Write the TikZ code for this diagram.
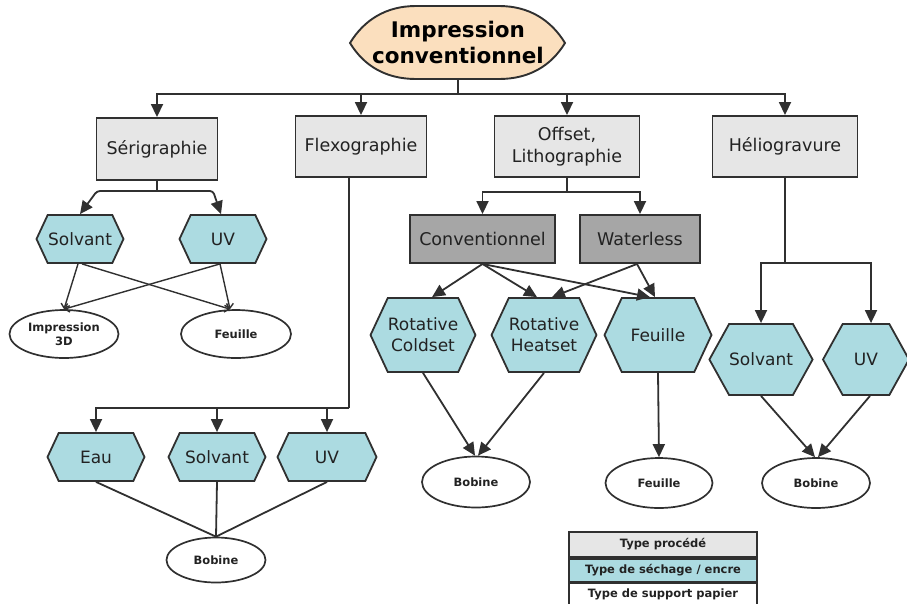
\documentclass[tikz,border=0pt]{standalone}
\usepackage{fontspec}
\setmainfont{DejaVu Sans}
\usetikzlibrary{shapes.geometric,shapes.symbols,arrows.meta,calc}
\definecolor{peach}{HTML}{FBDFBE}
\definecolor{lgray}{HTML}{E6E6E6}
\definecolor{dgray}{HTML}{A6A6A6}
\definecolor{cyanf}{HTML}{ACDBE1}
\definecolor{edge}{HTML}{303030}
\definecolor{txt}{HTML}{222222}
\begin{document}
\begin{tikzpicture}[x=1pt,y=-1pt,
  every node/.style={text=txt},
  proc/.style={rectangle,draw=edge,line width=1.9pt,fill=lgray,inner sep=0pt,align=center,font=\fontsize{17.5}{22}\selectfont},
  sub/.style={proc,fill=dgray},
  hexa/.style={signal,signal to=west and east,signal pointer angle=130,draw=edge,line width=1.8pt,fill=cyanf,inner sep=0pt,align=center,font=\fontsize{17}{21}\selectfont},
  supp/.style={ellipse,draw=edge,line width=1.7pt,fill=white,inner sep=0pt,align=center,font=\bfseries\fontsize{11.5}{14}\selectfont},
  conn/.style={draw=edge,line width=1.8pt},
  arr/.style={conn,-{Triangle[length=13pt,width=12pt]}},
  tiny/.style={conn,line width=1.4pt,-{Straight Barb[length=4pt,width=9pt]}},
  leg/.style={rectangle,draw=edge,line width=1.7pt,inner sep=0pt,minimum width=188pt,font=\bfseries\fontsize{11.5}{14}\selectfont}
]
\useasboundingbox (0,0) rectangle (907,603);

% top node
\fill[peach,draw=edge,line width=1.9pt] (350,43) .. controls (364,20) and (386,6) .. (416,6) -- (499,6) .. controls (529,6) and (551,20) .. (565,43) .. controls (551,66) and (529,79) .. (499,79) -- (416,79) .. controls (386,79) and (364,66) .. (350,43) -- cycle;
\node[inner sep=0pt,minimum width=215pt,minimum height=74pt,align=center,text=black,font=\bfseries\fontsize{21.5}{26}\selectfont] (top) at (458,42.5) {Impression\\conventionnel};

% process boxes
\node[proc,minimum width=121pt,minimum height=62pt] (seri) at (157,149) {Sérigraphie};
\node[proc,minimum width=131pt,minimum height=61pt] (flexo) at (361,146.5) {Flexographie};
\node[proc,minimum width=145pt,minimum height=61pt] (off) at (567,146.5) {Offset,\\Lithographie};
\node[proc,minimum width=145pt,minimum height=61pt] (helio) at (785,146.5) {Héliogravure};

% offset sub types
\node[sub,minimum width=145pt,minimum height=48pt] (conv) at (482.5,239) {Conventionnel};
\node[sub,minimum width=120pt,minimum height=48pt] (water) at (640,239) {Waterless};

% hexagons
\node[hexa,minimum width=87pt,minimum height=48pt] (solv1) at (80,239) {Solvant};
\node[hexa,minimum width=87pt,minimum height=48pt] (uv1) at (223,239) {UV};
\node[hexa,minimum width=97pt,minimum height=48pt] (eau) at (96,457) {Eau};
\node[hexa,minimum width=97pt,minimum height=48pt] (solv2) at (217,457) {Solvant};
\node[hexa,minimum width=99pt,minimum height=48pt] (uv2) at (327,457) {UV};
\node[hexa,minimum width=100pt,minimum height=74pt] (cold) at (423,335) {Rotative\\Coldset};
\node[hexa,minimum width=98pt,minimum height=74pt] (heat) at (544,335) {Rotative\\Heatset};
\node[hexa,minimum width=107pt,minimum height=74pt] (feuh) at (658,335) {Feuille};
\node[hexa,signal pointer angle=122,minimum width=98pt,minimum height=71pt] (solv3) at (761,359.5) {Solvant};
\node[hexa,signal pointer angle=122,minimum width=86pt,minimum height=71pt] (uv3) at (866,359.5) {UV};

% ellipses
\node[supp,minimum width=109pt,minimum height=48pt] (imp) at (64,334) {Impression\\3D};
\node[supp,minimum width=110pt,minimum height=48pt] (feu1) at (236,334) {Feuille};
\node[supp,minimum width=99pt,minimum height=45pt] (bob1) at (216,560) {Bobine};
\node[supp,minimum width=108pt,minimum height=51pt] (bob2) at (476,482) {Bobine};
\node[supp,minimum width=107pt,minimum height=50pt] (feu2) at (659,483) {Feuille};
\node[supp,minimum width=108pt,minimum height=50pt] (bob3) at (816,483) {Bobine};

% legend
\node[leg,fill=lgray,minimum height=25pt] (l1) at (663,544.5) {Type procédé};
\node[leg,fill=cyanf,minimum height=23pt,anchor=north] (l2) at (l1.south) {Type de séchage / encre};
\node[leg,fill=white,minimum height=22pt,anchor=north] (l3) at (l2.south) {Type de support papier};

% top bus
\coordinate (tb) at (458,94);
\draw[conn] (top.south) -- (tb);
\draw[arr] (tb) -| (seri.north);
\draw[arr] (tb) -| (flexo.north);
\draw[arr] (tb) -| (off.north);
\draw[arr] (tb) -| (helio.north);

% serigraphie
\coordinate (sb) at (157,191);
\draw[conn] (seri.south) -- (sb);
\draw[arr,rounded corners=3pt] (sb) -- (97,191) -- (solv1.north);
\draw[arr,rounded corners=3pt] (sb) -- (213,191) -- ($(uv1.north)+(-2,0)$);
\draw[tiny] ($(solv1.south)+(-2,0)$) -- (imp.north);
\draw[tiny] ($(solv1.south)+(2,0)$) -- ($(feu1.north)+(-6,0)$);
\draw[tiny] ($(uv1.south)+(-3,0)$) -- (imp.north);
\draw[tiny] ($(uv1.south)+(-3,0)$) -- ($(feu1.north)+(-6,0)$);

% flexographie
\coordinate (fb) at (349,408);
\draw[conn] (flexo.south -| fb) -- (fb);
\draw[arr] (fb) -| (eau.north);
\draw[arr] (solv2.north |- fb) -- (solv2.north);
\draw[arr] (uv2.north |- fb) -- (uv2.north);
\draw[conn] (eau.south) -- (bob1.north);
\draw[conn] (solv2.south) -- (bob1.north);
\draw[conn] (uv2.south) -- (bob1.north);

% offset
\coordinate (ob) at (567,192);
\draw[conn] (off.south) -- (ob);
\draw[arr] (ob) -| (conv.north);
\draw[arr] (ob) -| (water.north);
\draw[arr] (conv.south) -- ($(cold.north)+(9,0)$);
\draw[arr] (conv.south) -- ($(heat.north)+(-7,0)$);
\draw[arr] (conv.south) -- ($(feuh.north)+(-8,0)$);
\draw[arr] ($(water.south)+(-3,0)$) -- ($(heat.north)+(8,0)$);
\draw[arr] ($(water.south)+(-3,0)$) -- ($(feuh.north)+(-3,0)$);
\draw[arr] (cold.south) -- ($(bob2.north)+(-1,0)$);
\draw[arr] (heat.south) -- ($(bob2.north)+(2,0)$);
\draw[arr] (feuh.south) -- (feu2.north);

% heliogravure
\coordinate (hb) at (785,263);
\draw[conn] (helio.south) -- (hb);
\draw[arr] (hb) -| (solv3.north);
\draw[arr] (hb) -| ($(uv3.north)+(5,0)$);
\draw[arr] (solv3.south) -- ($(bob3.north)+(-1,0)$);
\draw[arr] ($(uv3.south)+(4,0)$) -- ($(bob3.north)+(2,0)$);
\end{tikzpicture}
\end{document}
